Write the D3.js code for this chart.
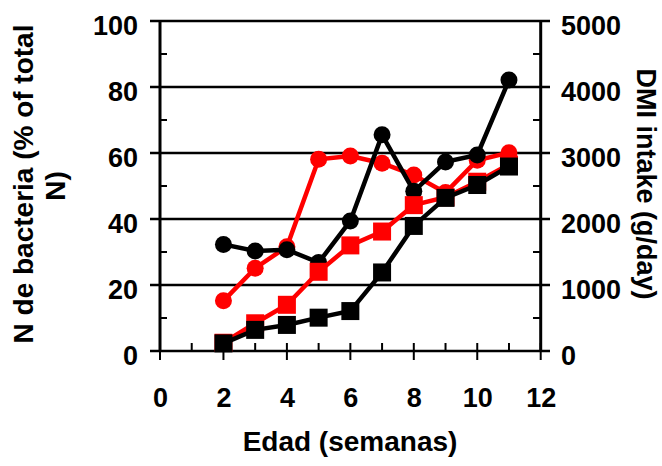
<!DOCTYPE html>
<html>
<head>
<meta charset="utf-8">
<script src="https://cdn.jsdelivr.net/npm/d3@7"></script>
<style>
  body { margin: 0; background: #fff; }
  text { font-family: "Liberation Sans", Arial, sans-serif; font-weight: bold; fill: #000; }
</style>
</head>
<body>
<svg class="viz" width="662" height="466"></svg>
<script>
// data
var weeks = [2, 3, 4, 5, 6, 7, 8, 9, 10, 11];
// N de bacteria (% of total N), left axis
var bactBlack = [32.3, 30.3, 30.7, 26.8, 39.4, 65.5, 48.4, 57.3, 59.4, 82.1];
var bactRed   = [15.2, 25.1, 31.6, 58.1, 59.1, 56.9, 53.3, 48.0, 57.8, 60.1];
// DMI intake (g/day), right axis
var dmiBlack = [115, 320, 395, 505, 605, 1190, 1895, 2320, 2515, 2795];
var dmiRed   = [125, 420, 700, 1200, 1600, 1810, 2210, 2330, 2565, 2825];

var xTicks = [0, 2, 4, 6, 8, 10, 12];
var leftTicks = [0, 20, 40, 60, 80, 100];
var rightTicks = [0, 1000, 2000, 3000, 4000, 5000];

var svg = d3.select(".viz");

var xScale = d3.scaleLinear().domain([0, 12]).range([160, 540.7]);
var yLeft = d3.scaleLinear().domain([0, 100]).range([351, 21]);
var yRight = d3.scaleLinear().domain([0, 5000]).range([351, 21]);

// gridlines (also act as the major ticks)
svg.append("g").selectAll("line")
  .data(leftTicks)
  .enter().append("line")
    .attr("x1", 150).attr("x2", 550)
    .attr("y1", function(d) { return yLeft(d); })
    .attr("y2", function(d) { return yLeft(d); })
    .style("stroke", "#000").style("stroke-width", "2.5px");

// minor ticks on the two y axes
var minor = d3.range(10, 100, 20);
svg.append("g").selectAll("line")
  .data(minor)
  .enter().append("line")
    .attr("x1", 160).attr("x2", 167)
    .attr("y1", function(d) { return yLeft(d); })
    .attr("y2", function(d) { return yLeft(d); })
    .style("stroke", "#000").style("stroke-width", "2px");
svg.append("g").selectAll("line")
  .data(minor)
  .enter().append("line")
    .attr("x1", 533).attr("x2", 540.7)
    .attr("y1", function(d) { return yLeft(d); })
    .attr("y2", function(d) { return yLeft(d); })
    .style("stroke", "#000").style("stroke-width", "2px");

// x ticks
svg.append("g").selectAll("line")
  .data(d3.range(0, 13))
  .enter().append("line")
    .attr("x1", function(d) { return xScale(d); })
    .attr("x2", function(d) { return xScale(d); })
    .attr("y1", 343)
    .attr("y2", function(d) { return d % 2 == 0 ? 360 : 351; })
    .style("stroke", "#000").style("stroke-width", "2px");

// axis lines
svg.append("line").attr("x1", 160).attr("x2", 160).attr("y1", 20).attr("y2", 352)
  .style("stroke", "#000").style("stroke-width", "3px");
svg.append("line").attr("x1", 540.7).attr("x2", 540.7).attr("y1", 20).attr("y2", 352)
  .style("stroke", "#000").style("stroke-width", "3px");

// tick labels through d3 axes
var leftAxis = d3.axisLeft(yLeft).tickValues(leftTicks).tickSize(0).tickPadding(0);
var rightAxis = d3.axisRight(yRight).tickValues(rightTicks).tickSize(0).tickPadding(0)
  .tickFormat(d3.format("d"));
var bottomAxis = d3.axisBottom(xScale).tickValues(xTicks).tickSize(0).tickPadding(0);

function styleAxis(g) {
  g.select(".domain").remove();
  g.selectAll("text").attr("font-size", "27px").style("font-family", null);
}

svg.append("g").attr("transform", "translate(138,5)").call(leftAxis).call(styleAxis);
svg.append("g").attr("transform", "translate(561,5)").call(rightAxis).call(styleAxis);
svg.append("g").attr("transform", "translate(0,388)").call(bottomAxis).call(styleAxis);

// axis titles
svg.append("text")
  .attr("transform", "translate(33,184) rotate(-90)")
  .attr("text-anchor", "middle")
  .attr("font-size", "28px")
  .text("N de bacteria (% of total");
svg.append("text")
  .attr("transform", "translate(65,186) rotate(-90)")
  .attr("text-anchor", "middle")
  .attr("font-size", "28px")
  .text("N)");
svg.append("text")
  .attr("transform", "translate(637,184) rotate(90)")
  .attr("text-anchor", "middle")
  .attr("font-size", "27px")
  .text("DMI intake (g/day)");
svg.append("text")
  .attr("x", 350).attr("y", 451)
  .attr("text-anchor", "middle")
  .attr("font-size", "28px")
  .text("Edad (semanas)");

// series
var lineLeft = d3.line()
  .x(function(d, i) { return xScale(weeks[i]); })
  .y(function(d) { return yLeft(d); });
var lineRight = d3.line()
  .x(function(d, i) { return xScale(weeks[i]); })
  .y(function(d) { return yRight(d); });

function circleSeries(values, color) {
  svg.append("path").datum(values)
    .attr("d", lineLeft)
    .style("fill", "none").style("stroke", color).style("stroke-width", "4.5px");
  svg.append("g").selectAll("circle")
    .data(values)
    .enter().append("circle")
      .attr("cx", function(d, i) { return xScale(weeks[i]); })
      .attr("cy", function(d) { return yLeft(d); })
      .attr("r", 8.5)
      .style("fill", color);
}

function squareSeries(values, color) {
  var s = 18;
  svg.append("path").datum(values)
    .attr("d", lineRight)
    .style("fill", "none").style("stroke", color).style("stroke-width", "4.5px");
  svg.append("g").selectAll("rect")
    .data(values)
    .enter().append("rect")
      .attr("x", function(d, i) { return xScale(weeks[i]) - s / 2; })
      .attr("y", function(d) { return yRight(d) - s / 2; })
      .attr("width", s).attr("height", s)
      .style("fill", color);
}

circleSeries(bactRed, "#ff0000");
circleSeries(bactBlack, "#000");
squareSeries(dmiRed, "#ff0000");
squareSeries(dmiBlack, "#000");
</script>
</body>
</html>
